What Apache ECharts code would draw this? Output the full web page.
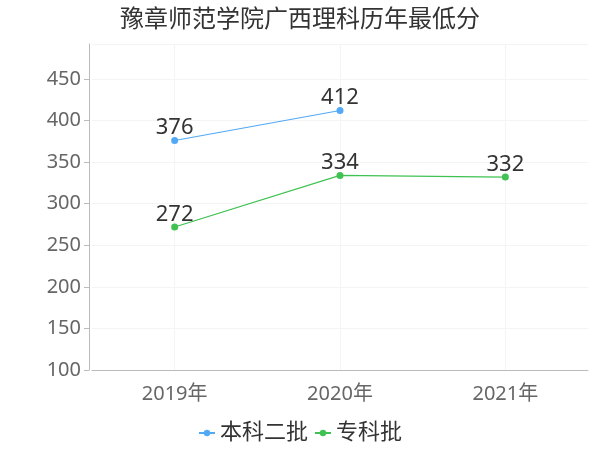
<!DOCTYPE html>
<html><head><meta charset="utf-8">
<script src="https://cdn.jsdelivr.net/npm/echarts@6/dist/echarts.min.js"></script>
<style>html,body{margin:0;padding:0;background:#fff}#c{width:600px;height:450px}</style>
</head><body><div id="c"></div>
<script>
const titleText = '豫章师范学院广西理科历年最低分';
const categories = ['2019年', '2020年', '2021年'];
const seriesNames = ['本科二批', '专科批'];
const benke2 = [376, 412, null];
const zhuanke = [272, 334, 332];
const colors = ['#52a9f5', '#3fc252'];

const chart = echarts.init(document.getElementById('c'));
const font = '"Noto Sans", "Noto Sans CJK SC", sans-serif';
const lbl = { show: true, position: 'top', fontSize: 22, color: '#333', distance: -2, fontFamily: font };
chart.setOption({
  animation: false,
  textStyle: { fontFamily: font },
  title: { text: titleText, left: 'center', top: 3, textStyle: { fontSize: 24, fontWeight: 'normal', color: '#333', fontFamily: font } },
  legend: {
    bottom: 1, left: 'center', itemWidth: 16, itemHeight: 8, itemGap: 6,
    textStyle: { fontSize: 22, color: '#333', fontFamily: font },
    data: seriesNames
  },
  grid: { left: 92, right: 12, top: 44, bottom: 80 },
  xAxis: {
    type: 'category', data: categories,
    axisLine: { lineStyle: { color: '#bbb' } },
    axisTick: { alignWithLabel: true, lineStyle: { color: '#ccc' } },
    axisLabel: { fontSize: 20, color: '#666', margin: 14, fontFamily: font },
    splitLine: { show: false }
  },
  yAxis: {
    type: 'value', min: 100, max: 492, interval: 50, offset: 3,
    axisLine: { show: true, lineStyle: { color: '#bbb' } },
    axisTick: { show: true, lineStyle: { color: '#bbb' } },
    axisLabel: { fontSize: 20, color: '#666', showMaxLabel: false, margin: 8, fontFamily: font },
    splitLine: { lineStyle: { color: '#f4f4f4' } }
  },
  series: [
    { name: 'grid-v', type: 'line', data: [], z: 0,
      markLine: { silent: true, symbol: 'none', label: { show: false }, z: 0,
        lineStyle: { color: '#f4f4f4', type: 'solid', width: 1 },
        data: categories.map(c => ({ xAxis: c })) } },
    { name: seriesNames[0], type: 'line', data: benke2, symbol: 'circle', symbolSize: 7,
      itemStyle: { color: colors[0] }, lineStyle: { width: 1.2, color: colors[0] }, label: lbl, z: 3 },
    { name: seriesNames[1], type: 'line', data: zhuanke, symbol: 'circle', symbolSize: 7,
      itemStyle: { color: colors[1] }, lineStyle: { width: 1.2, color: colors[1] }, label: lbl, z: 3 }
  ]
});
</script></body></html>
